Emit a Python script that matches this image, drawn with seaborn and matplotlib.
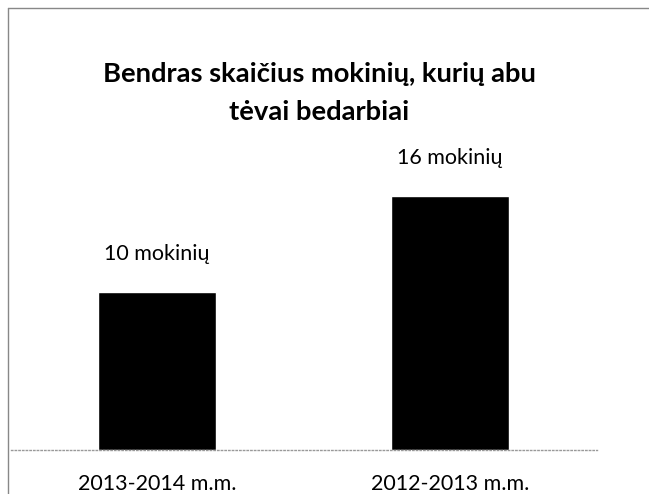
import matplotlib
matplotlib.use('Agg')
import matplotlib.pyplot as plt
import seaborn as sns
import pandas as pd
from matplotlib.lines import Line2D

# duomenys
years = ['2013-2014 m.m.', '2012-2013 m.m.']
students = [10, 16]
bar_labels = ['10 mokinių', '16 mokinių']
title = 'Bendras skaičius mokinių, kurių abu\ntėvai bedarbiai'

sns.set_theme(style='white')
plt.rcParams['font.family'] = ['Lato', 'DejaVu Sans']

df = pd.DataFrame({'metai': years, 'mokiniai': students})

W, H = 649, 494
fig = plt.figure(figsize=(W / 100, H / 100), dpi=100)
ax = fig.add_axes([10.5 / W, (H - 450) / H, 586 / W, 317 / H])

sns.barplot(data=df, x='metai', y='mokiniai', color='black', width=0.406,
            saturation=1, ax=ax)
ax.set_xlim(-0.5, 1.5)
ax.set_ylim(0, 20)

# uzrasai virs stulpeliu
for i, (v, lab) in enumerate(zip(students, bar_labels)):
    ax.annotate(lab, (i, v), xytext=(0, 23), textcoords='offset points',
                ha='center', va='baseline', fontsize=15.5, color='black')

for s in ['top', 'right', 'left']:
    ax.spines[s].set_visible(False)
ax.spines['bottom'].set_color('#999999')
ax.spines['bottom'].set_linestyle(':')
ax.spines['bottom'].set_linewidth(1)
ax.set_yticks([])
ax.set_xlabel('')
ax.set_ylabel('')
ax.tick_params(axis='x', length=0, pad=17, labelsize=15.5, labelcolor='black')

fig.text(319 / W, 1 - 62 / H, title, ha='center', va='top', fontsize=19.7,
         fontweight='bold', linespacing=1.68, color='black')

# remelis
fig.add_artist(Line2D([8 / W, 8 / W], [0, 1 - 8 / H], color='#888888', lw=1))
fig.add_artist(Line2D([8 / W, 1], [1 - 8 / H, 1 - 8 / H], color='#888888', lw=1))

fig.savefig('out.png', dpi=100)
